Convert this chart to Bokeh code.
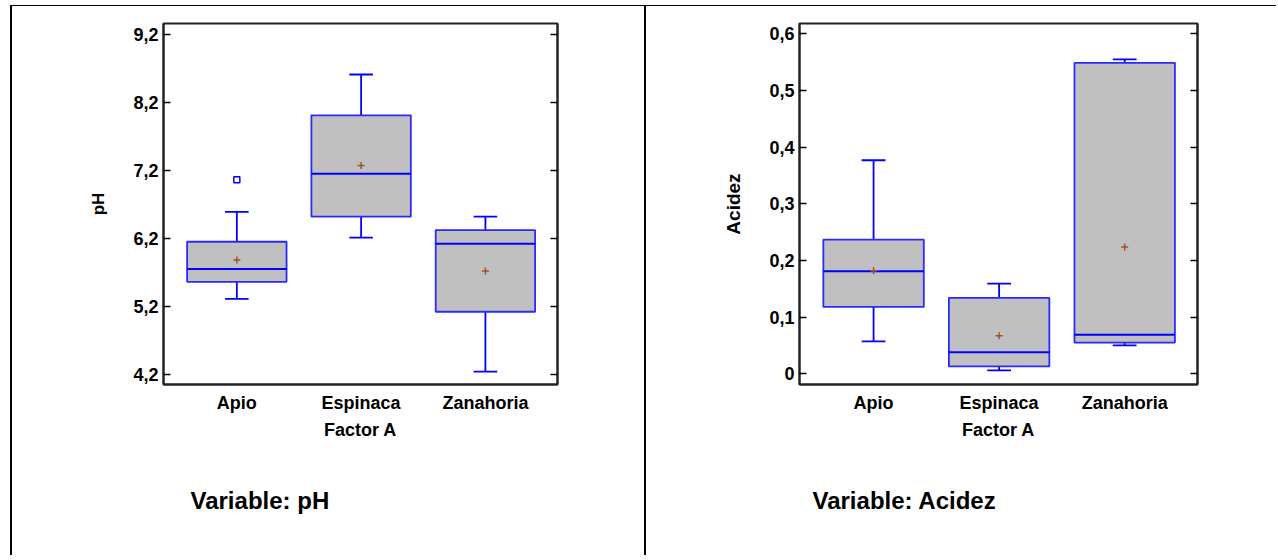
from bokeh.plotting import figure
from bokeh.layouts import row
from bokeh.models import FixedTicker, CustomJSTickFormatter, LinearAxis, Title, Range1d
from bokeh.embed import file_html
from bokeh.resources import INLINE

categories = ["Apio", "Espinaca", "Zanahoria"]
xpos = [1, 2, 3]

ph_lower = [5.31, 6.21, 4.24]
ph_q1 = [5.56, 6.52, 5.12]
ph_median = [5.75, 7.15, 6.12]
ph_q3 = [6.15, 8.01, 6.32]
ph_upper = [6.59, 8.61, 6.52]
ph_mean = [5.88, 7.27, 5.72]
ph_out_x = [1]
ph_out_y = [7.06]
ph_ticks = [4.2, 5.2, 6.2, 7.2, 8.2, 9.2]

ac_lower = [0.057, 0.006, 0.050]
ac_q1 = [0.118, 0.013, 0.055]
ac_median = [0.181, 0.038, 0.069]
ac_q3 = [0.237, 0.134, 0.549]
ac_upper = [0.377, 0.159, 0.555]
ac_mean = [0.182, 0.067, 0.224]
ac_ticks = [0.0, 0.1, 0.2, 0.3, 0.4, 0.5, 0.6]

FONT = "Liberation Sans"
BOX_W = 0.8
CAP_W = 0.19


def panel(width, height, yr, ylabel, ylabel_size, ticks, lower, q1, med, q3, upper, mean,
          mb, title, title_offset, out=None, styles=None, margin=None):
    p = figure(width=width, height=height, x_range=Range1d(0.41, 3.58),
               y_range=Range1d(*yr), output_backend="svg", toolbar_location=None,
               min_border_left=mb[0], min_border_right=mb[1],
               min_border_top=mb[2], min_border_bottom=mb[3],
               styles=styles or {}, margin=margin)
    p.grid.visible = False
    p.outline_line_color = "#222222"
    p.outline_line_width = 2
    p.background_fill_color = "white"
    p.border_fill_color = "white"

    fmt = CustomJSTickFormatter(code="return tick == 0 ? '0' : tick.toFixed(1).replace('.', ',');")
    ya = p.yaxis[0]
    ya.ticker = FixedTicker(ticks=ticks)
    ya.formatter = fmt
    ya.axis_label = ylabel
    ya.axis_line_width = 2
    ya.axis_line_color = "#222222"
    ya.major_tick_in = 7
    ya.major_tick_out = 0
    ya.major_tick_line_width = 1.5
    ya.minor_tick_line_color = None
    ya.major_label_text_font = FONT
    ya.major_label_text_font_style = "bold"
    ya.major_label_text_font_size = "18px"
    ya.major_label_text_color = "black"
    ya.major_label_standoff = 5
    ya.axis_label_text_font = FONT
    ya.axis_label_text_font_style = "bold"
    ya.axis_label_text_font_size = ylabel_size
    ya.axis_label_text_color = "black"
    ya.axis_label_standoff = 22

    ra = LinearAxis(ticker=FixedTicker(ticks=ticks), major_label_text_color=None,
                    major_tick_in=7, major_tick_out=0, major_tick_line_width=1.5,
                    minor_tick_line_color=None, axis_line_width=2, axis_line_color="#222222",
                    major_label_standoff=0)
    p.add_layout(ra, "right")

    xa = p.xaxis[0]
    xa.ticker = FixedTicker(ticks=xpos)
    xa.major_label_overrides = {i: c for i, c in zip(xpos, categories)}
    xa.axis_label = "Factor A"
    xa.axis_line_width = 2
    xa.axis_line_color = "#222222"
    xa.major_tick_line_color = None
    xa.major_tick_in = 0
    xa.major_tick_out = 0
    xa.minor_tick_line_color = None
    xa.major_label_text_font = FONT
    xa.major_label_text_font_style = "bold"
    xa.major_label_text_font_size = "18px"
    xa.major_label_text_color = "black"
    xa.major_label_standoff = 8
    xa.axis_label_text_font = FONT
    xa.axis_label_text_font_style = "bold"
    xa.axis_label_text_font_size = "18px"
    xa.axis_label_text_color = "black"
    xa.axis_label_standoff = 4

    left = [x - BOX_W / 2 for x in xpos]
    right = [x + BOX_W / 2 for x in xpos]
    cl = [x - CAP_W / 2 for x in xpos]
    cr = [x + CAP_W / 2 for x in xpos]
    blue = "#0000ff"
    p.segment(x0=xpos, y0=q3, x1=xpos, y1=upper, line_color=blue, line_width=1.8)
    p.segment(x0=xpos, y0=q1, x1=xpos, y1=lower, line_color=blue, line_width=1.8)
    p.segment(x0=cl, y0=upper, x1=cr, y1=upper, line_color=blue, line_width=1.8)
    p.segment(x0=cl, y0=lower, x1=cr, y1=lower, line_color=blue, line_width=1.8)
    p.quad(left=left, right=right, bottom=q1, top=q3, fill_color="#c0c0c0",
           line_color="#2a2aff", line_width=1.8)
    p.segment(x0=left, y0=med, x1=right, y1=med, line_color=blue, line_width=2)
    p.scatter(x=xpos, y=mean, marker="cross", size=7, line_color="#a0522d", line_width=1.5)
    if out is not None:
        p.scatter(x=out[0], y=out[1], marker="square", size=6, fill_color=None,
                  line_color=blue, line_width=1.5)

    p.add_layout(Title(text=title, text_font=FONT, text_font_style="bold",
                       text_font_size="24px", text_color="black", align="left",
                       offset=title_offset, standoff=84), "below")
    return p


p1 = panel(636, 550, (4.05, 9.36), "pH", "17px", ph_ticks, ph_lower, ph_q1, ph_median, ph_q3,
           ph_upper, ph_mean, (151, 91, 17, 172), "Variable: pH", 27,
           out=(ph_out_x, ph_out_y),
           styles={"border-left": "2px solid black", "border-right": "2px solid black",
                   "border-top": "1px solid black"},
           margin=(5, 0, 0, 10))
p2 = panel(630, 550, (-0.019, 0.6185), "Acidez", "19px", ac_ticks, ac_lower, ac_q1, ac_median,
           ac_q3, ac_upper, ac_mean, (153, 79, 13, 169), "Variable: Acidez", 13,
           styles={"border-top": "1px solid black"},
           margin=(5, 0, 0, 0))

layout = row(p1, p2)
open("out.html", "w").write(file_html(layout, INLINE))
